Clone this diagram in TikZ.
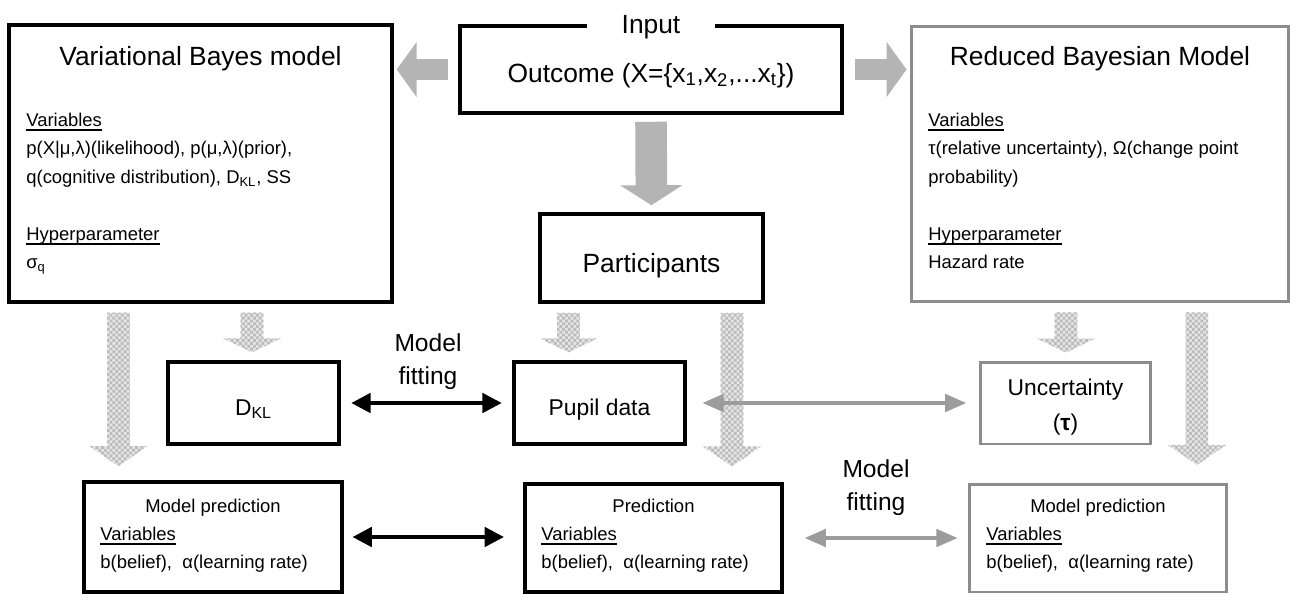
\documentclass[tikz,border=0pt]{standalone}
\usepackage{fontspec}
\setmainfont{Liberation Sans}
\usepackage{tikz}
\usetikzlibrary{arrows.meta, calc, patterns}
\definecolor{blockgray}{HTML}{B4B4B4}
\definecolor{framegray}{HTML}{8C8C8C}
\definecolor{linkgray}{HTML}{9C9C9C}
\definecolor{checkgray}{HTML}{BCBCBC}
\definecolor{checklight}{HTML}{E6E6E6}

\pgfdeclarepatternformonly{finechecker}{\pgfqpoint{-.1pt}{-.1pt}}{\pgfqpoint{3.4pt}{3.4pt}}{\pgfqpoint{3.2pt}{3.2pt}}{%
  \pgfpathrectangle{\pgfqpoint{0pt}{0pt}}{\pgfqpoint{1.6pt}{1.6pt}}%
  \pgfpathrectangle{\pgfqpoint{1.6pt}{1.6pt}}{\pgfqpoint{1.6pt}{1.6pt}}%
  \pgfusepath{fill}}

% underlined heading inside a box
\newcommand{\uvar}[1]{\setbox0\hbox{#1}\rlap{\rule[-2.6pt]{\wd0}{1.1pt}}\box0}
% textured down arrow: start, target anchor, head length, gap
\newcommand{\chkarrow}[4]{%
  \path[checkarrow] let \p1=(#1), \p2=(#2) in
    (\x1-6.5pt,\y1) -- (\x1-6.5pt,\y2+#4+#3) -- (\x1-16.5pt,\y2+#4+#3) -- (\x1,\y2+#4)
    -- (\x1+16.5pt,\y2+#4+#3) -- (\x1+6.5pt,\y2+#4+#3) -- (\x1+6.5pt,\y1) -- cycle;}

\begin{document}
\begin{tikzpicture}[x=0.02cm, y=-0.02cm,
    model/.style={draw=black, line width=2pt, inner sep=0pt},
    greymodel/.style={model, draw=framegray, line width=1.7pt},
    headtext/.style={font=\fontsize{15}{18}\selectfont, anchor=base},
    boxtext/.style={font=\fontsize{13}{19.5}\selectfont, align=center},
    fittext/.style={font=\fontsize{14}{18.8}\selectfont, align=center},
    bodytext/.style={font=\fontsize{10.5}{16.2}\selectfont, align=left, anchor=north west, inner sep=0pt},
    predtext/.style={font=\fontsize{10.5}{15.6}\selectfont, align=left, anchor=north west, inner sep=0pt},
    smalltext/.style={font=\fontsize{10.5}{12}\selectfont, anchor=base},
    blockarrow/.style={draw=blockgray, line width=#1},
    checkarrow/.style={preaction={fill=checklight}, pattern=finechecker, pattern color=checkgray},
    blacklink/.style={draw=black, line width=2.2pt, <->, >={Triangle[length=11pt,width=11pt]}},
    greylink/.style={draw=linkgray, line width=1.8pt, <->, >={Triangle[length=12pt,width=10pt]}},
]
\useasboundingbox (0,0) rectangle (1296,595);

% top row
\node[model, minimum width=7.66cm, minimum height=5.54cm] (vb) at (200.5,163.5) {};
\node[headtext] (vbtitle) at (200.5,65) {Variational Bayes model};
\node[bodytext] (vbtext) at (26,112.5) {\uvar{Variables}\\p(X|μ,λ)(likelihood), p(μ,λ)(prior),\\q(cognitive distribution), D\textsubscript{KL}, SS\\[16.2pt]\uvar{Hyperparameter}\\σ\textsubscript{q}};

\node[model, minimum width=7.64cm, minimum height=1.74cm] (in) at (651,69.5) {};
\node[headtext, fill=white, minimum width=2.56cm] (inlabel) at (651,33) {Input};
\node[headtext] (outcome) at (651,82) {Outcome (X=\{x\textsubscript{1},x\textsubscript{2},...x\textsubscript{t}\})};

\node[greymodel, minimum width=7.56cm, minimum height=5.52cm] (rbm) at (1100,164) {};
\node[headtext] (rbmtitle) at (1100,65) {Reduced Bayesian Model};
\node[bodytext] (rbmtext) at (928,112.5) {\uvar{Variables}\\τ(relative uncertainty), Ω(change point\\probability)\\[16.2pt]\uvar{Hyperparameter}\\Hazard rate};

\node[model, minimum width=4.46cm, minimum height=1.76cm] (part) at (651.5,258) {};
\node[headtext] (parttext) at (651.5,272) {Participants};

% middle row
\node[model, minimum width=3.42cm, minimum height=1.64cm] (dkl) at (253.5,403) {};
\node[boxtext, anchor=base] (dkltext) at (253.5,415) {D\textsubscript{KL}};
\node[model, minimum width=3.42cm, minimum height=1.64cm] (pupil) at (599.5,403) {};
\node[boxtext, anchor=base] (pupiltext) at (599.5,415) {Pupil data};
\node[greymodel, minimum width=3.42cm, minimum height=1.64cm] (unc) at (1065.5,403) {};
\node[boxtext] (unctext) at (1065.5,407) {Uncertainty\\({\bfseries τ})};

% bottom row
\node[model, minimum width=5.16cm, minimum height=2.2cm] (mpl) at (213,537) {};
\node[smalltext] (mpltitle) at (213,512) {Model prediction};
\node[predtext] (mpltext) at (100,527) {\uvar{Variables}\\b(belief),\ \ α(learning rate)};
\node[model, minimum width=5.14cm, minimum height=2.16cm] (pred) at (653.5,538) {};
\node[smalltext] (predtitle) at (653.5,512) {Prediction};
\node[predtext] (predtext) at (541,527) {\uvar{Variables}\\b(belief),\ \ α(learning rate)};
\node[greymodel, minimum width=5.14cm, minimum height=2.16cm] (mpr) at (1098,538) {};
\node[smalltext] (mprtitle) at (1098,512) {Model prediction};
\node[predtext] (mprtext) at (986,527) {\uvar{Variables}\\b(belief),\ \ α(learning rate)};

\node[fittext] (fit1) at (428,362) {Model\\fitting};
\node[fittext] (fit2) at (876,488) {Model\\fitting};

% solid block arrows from the input
\draw[blockarrow=12pt, -{Triangle[length=11.4pt,width=31pt]}, shorten <=5.7pt, shorten >=1.7pt] (in.west) -- (in.west -| vb.east);
\draw[blockarrow=12pt, -{Triangle[length=11.4pt,width=31pt]}, shorten <=6.3pt, shorten >=1.7pt] (in.east) -- (in.east -| rbm.west);
\draw[blockarrow=18pt, -{Triangle[length=11.4pt,width=35pt]}, shorten <=4pt, shorten >=4pt] (in.south) -- (part.north);

% textured arrows
\coordinate (vbdown1) at ($(vb.south)+(-82,9)$);
\coordinate (vbdown2) at ($(vb.south)+(51.5,9)$);
\coordinate (partdown1) at ($(part.south)+(-83,9)$);
\coordinate (partdown2) at ($(part.south)+(80.5,9)$);
\coordinate (rbmdown1) at ($(rbm.south)+(-34,9)$);
\coordinate (rbmdown2) at ($(rbm.south)+(97,9)$);
\chkarrow{vbdown1}{mpl.north}{11.4pt}{8pt}
\chkarrow{vbdown2}{dkl.north}{8pt}{4.5pt}
\chkarrow{partdown1}{pupil.north}{8pt}{4.5pt}
\chkarrow{partdown2}{pred.north}{11.4pt}{9pt}
\chkarrow{rbmdown1}{unc.north}{8pt}{4.5pt}
\chkarrow{rbmdown2}{mpr.north}{11.4pt}{10pt}

% model fitting links
\draw[blacklink, shorten <=6pt, shorten >=6pt] (dkl.east) -- (pupil.west);
\draw[blacklink, shorten <=5pt, shorten >=11pt] (mpl.east) -- (mpl.east -| pred.west);
\draw[greylink, shorten <=9pt, shorten >=7pt] (pupil.east) -- (unc.west);
\draw[greylink, shorten <=12pt, shorten >=6pt] (pred.east) -- (pred.east -| mpr.west);
\end{tikzpicture}
\end{document}
